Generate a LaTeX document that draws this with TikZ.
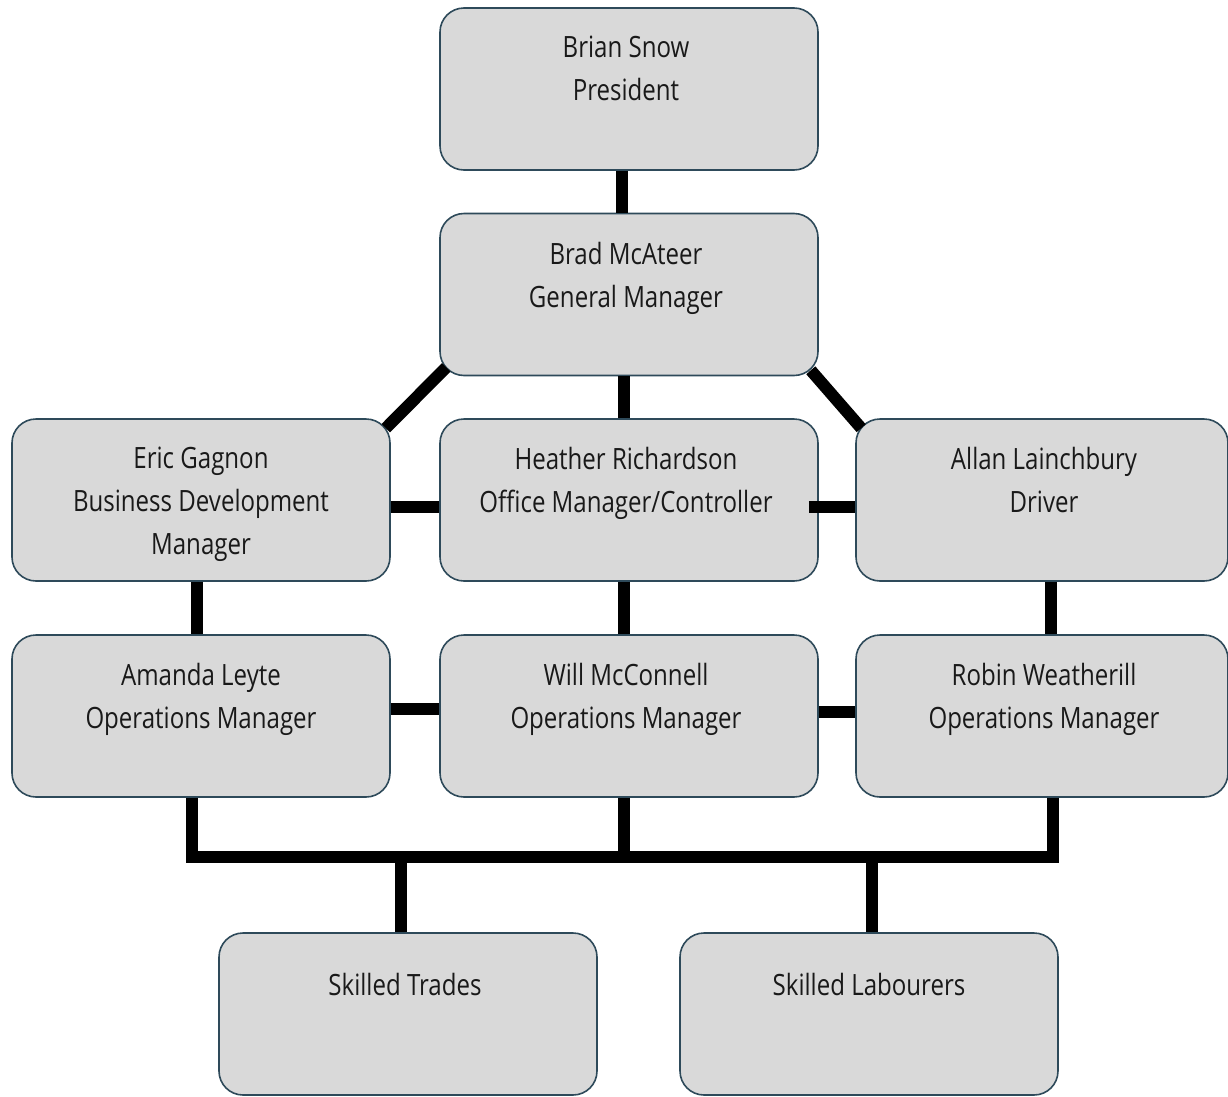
\documentclass[tikz,border=0pt]{standalone}
\usepackage{fontspec}
\setmainfont{Open Sans}[FakeStretch=0.82]
\definecolor{boxfill}{HTML}{D9D9D9}
\definecolor{boxline}{HTML}{2E4A5A}
\begin{document}
\begin{tikzpicture}[x=0.75pt,y=-0.75pt,
  orgbox/.style={draw=boxline,line width=1.2pt,fill=boxfill,rounded corners=18pt,
    minimum width=378*0.75pt,minimum height=162*0.75pt,inner sep=0pt},
  orgtext/.style={align=center,font=\fontsize{22}{32.3}\selectfont,text=black!90},
  link/.style={line width=9pt,black}]
\useasboundingbox (0,0) rectangle (1228,1096);
% boxes
\node[orgbox] (pres) at (629,89) {};
\node[orgbox] (gm) at (629,294.5) {};
\node[orgbox] (eric) at (201,500) {};
\node[orgbox] (heather) at (629,500) {};
\node[orgbox,minimum width=372*0.75pt] (allan) at (1042,500) {};
\node[orgbox] (amanda) at (201,716) {};
\node[orgbox] (will) at (629,716) {};
\node[orgbox,minimum width=372*0.75pt] (robin) at (1042,716) {};
\node[orgbox] (trades) at (408,1014) {};
\node[orgbox] (labour) at (869,1014) {};
% texts
\node[orgtext,anchor=north] (t1) at (626,31) {Brian Snow\\President};
\node[orgtext,anchor=north] (t2) at (626,237) {Brad McAteer\\General Manager};
\node[orgtext,anchor=north] (t3) at (201,442) {Eric Gagnon\\Business Development\\Manager};
\node[orgtext,anchor=north] (t4) at (626,442) {Heather Richardson\\Office Manager/Controller};
\node[orgtext,anchor=north] (t5) at (1044,442) {Allan Lainchbury\\Driver};
\node[orgtext,anchor=north] (t6) at (201,658) {Amanda Leyte\\Operations Manager};
\node[orgtext,anchor=north] (t7) at (626,658) {Will McConnell\\Operations Manager};
\node[orgtext,anchor=north] (t8) at (1044,658) {Robin Weatherill\\Operations Manager};
\node[orgtext,anchor=north] (t9) at (405,968) {Skilled Trades};
\node[orgtext,anchor=north] (t10) at (869,968) {Skilled Labourers};
% connectors
\draw[link] (pres.south -| 622,0) -- (gm.north -| 622,0);
\draw[link] (gm.south -| 624,0) -- (heather.north -| 624,0);
\draw[link] (gm.south west) ++(7,-9) coordinate (gmsw) (eric.north east) ++(-5,10) coordinate (ericne);
\draw[link] (gmsw) -- (ericne);
\draw[link] (gm.south east) ++(-8,-6) coordinate (gmse) (allan.north west) ++(6,10) coordinate (allannw);
\draw[link] (gmse) -- (allannw);
\draw[link] (eric.east |- 0,507) -- (heather.west |- 0,507);
\draw[link] (heather.east |- 0,507) ++(-10,0) coordinate (hr) (hr) -- (allan.west |- 0,507);
\draw[link] (eric.south -| 197,0) -- (amanda.north -| 197,0);
\draw[link] (heather.south -| 624,0) -- (will.north -| 624,0);
\draw[link] (allan.south -| 1051,0) -- (robin.north -| 1051,0);
\draw[link] (amanda.east |- 0,709) -- (will.west |- 0,709);
\draw[link] (will.east |- 0,712) -- (robin.west |- 0,712);
\coordinate (busl) at (192,857);
\coordinate (busr) at (1053,857);
\draw[link,line join=miter] (amanda.south -| 192,0) -- (busl) -- (busr) -- (robin.south -| 1053,0);
\draw[link] (will.south -| 624,0) -- (624,857);
\draw[link] (401,857) -- (trades.north -| 401,0);
\draw[link] (872,857) -- (labour.north -| 872,0);
\end{tikzpicture}
\end{document}
